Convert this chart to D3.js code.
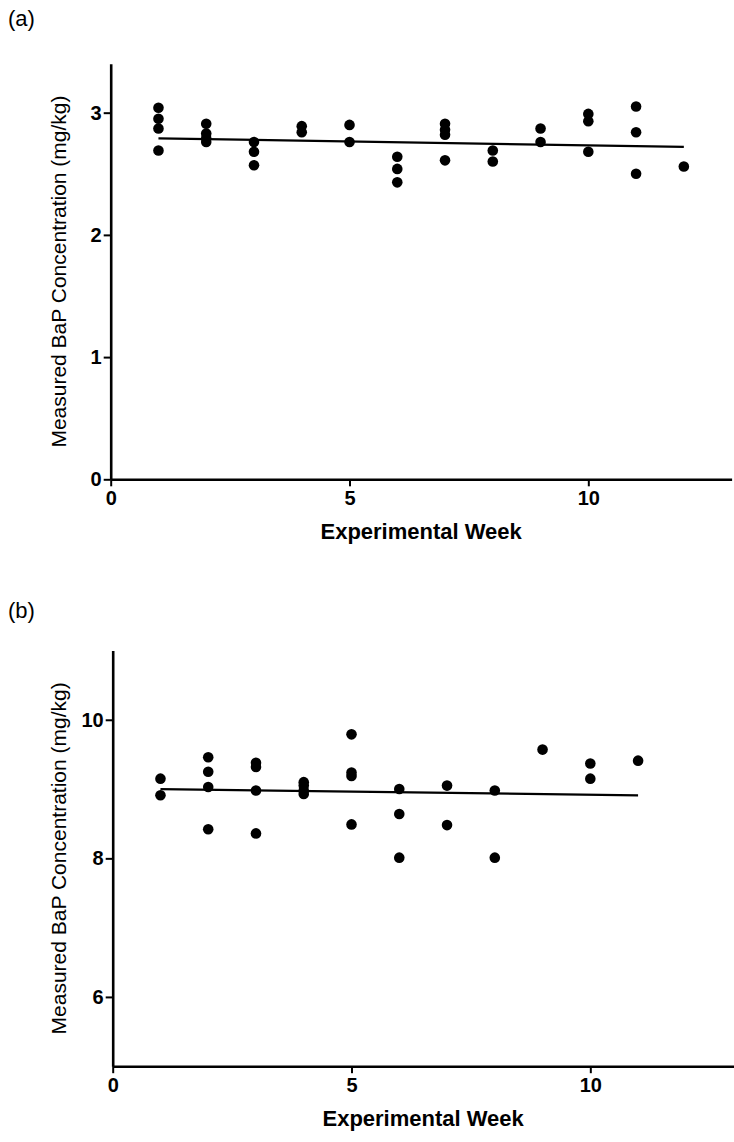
<!DOCTYPE html>
<html>
<head>
<meta charset="utf-8">
<script src="https://cdn.jsdelivr.net/npm/d3@7"></script>
<style>
  html, body { margin: 0; padding: 0; background: #fff; }
  svg { display: block; }
  text { font-family: "Liberation Sans", Arial, sans-serif; fill: #000; }
</style>
</head>
<body>
<svg id="fig" width="734" height="1142"></svg>
<script>
// Panel (a): measured BaP in feed, low dose
const weekA = [1, 1, 1, 1, 2, 2, 2, 2, 3, 3, 3, 4, 4, 5, 5, 6, 6, 6, 7, 7, 7, 7, 8, 8, 9, 9, 10, 10, 10, 11, 11, 11, 12];
const concA = [3.04, 2.95, 2.87, 2.69, 2.91, 2.83, 2.79, 2.76, 2.76, 2.68, 2.57, 2.89, 2.84, 2.90, 2.76, 2.64, 2.54, 2.43,
               2.91, 2.86, 2.82, 2.61, 2.69, 2.60, 2.87, 2.76, 2.99, 2.93, 2.68, 3.05, 2.84, 2.50, 2.56];
const fitWeekA = [1, 12];
const fitConcA = [2.79, 2.72];

// Panel (b): measured BaP in feed, high dose
const weekB = [1, 1, 2, 2, 2, 2, 3, 3, 3, 3, 4, 4, 4, 4, 5, 5, 5, 5, 6, 6, 6, 7, 7, 8, 8, 9, 10, 10, 11];
const concB = [9.15, 8.91, 9.46, 9.25, 9.03, 8.42, 9.38, 9.32, 8.98, 8.36, 9.10, 9.05, 8.98, 8.93,
               9.79, 9.24, 9.19, 8.49, 9.00, 8.64, 8.01, 9.05, 8.48, 8.98, 8.01, 9.57, 9.37, 9.15, 9.41];
const fitWeekB = [1, 11];
const fitConcB = [9.00, 8.91];

const xTicks = [0, 5, 10];
const yTicksA = [0, 1, 2, 3];
const yTicksB = [6, 8, 10];

const svg = d3.select("#fig");
const fmt = d3.format("d");

function panel(cfg) {
  const x = d3.scaleLinear().domain([0, 13]).range([cfg.left, cfg.right]);
  const y = d3.scaleLinear().domain(cfg.yDomain).range([cfg.bottom, cfg.top]);
  const g = svg.append("g");

  // panel letter
  g.append("text").attr("x", 8).attr("y", cfg.letterY)
    .style("font-size", "22px").text(cfg.letter);

  // axes
  const xAxis = d3.axisBottom(x).tickValues(xTicks).tickFormat(fmt)
    .tickSize(7).tickPadding(5).tickSizeOuter(0);
  const yAxis = d3.axisLeft(y).tickValues(cfg.yTicks).tickFormat(fmt)
    .tickSize(7).tickPadding(2).tickSizeOuter(0);

  const gx = g.append("g").attr("transform", `translate(0,${cfg.bottom})`).call(xAxis);
  const gy = g.append("g").attr("transform", `translate(${cfg.left},0)`).call(yAxis);
  [gx, gy].forEach(a => {
    a.select(".domain").attr("stroke", "#000").attr("stroke-width", 2.6);
    a.selectAll(".tick line").attr("stroke", "#000").attr("stroke-width", 2);
    a.selectAll(".tick text").style("font-size", "20px").style("font-weight", "bold")
      .style("font-family", "'Liberation Sans', Arial, sans-serif").attr("fill", "#000");
  });

  // axis titles
  g.append("text")
    .attr("x", (cfg.left + cfg.right) / 2).attr("y", cfg.bottom + 60)
    .attr("text-anchor", "middle")
    .style("font-size", "22px").style("font-weight", "bold")
    .text("Experimental Week");
  g.append("text")
    .attr("transform", `translate(${cfg.titleX},${(cfg.top + cfg.bottom) / 2}) rotate(-90)`)
    .attr("text-anchor", "middle")
    .style("font-size", "21px")
    .text("Measured BaP Concentration  (mg/kg)");

  // regression line
  const fit = cfg.fitWeek.map((w, i) => [w, cfg.fitConc[i]]);
  g.append("path")
    .datum(fit)
    .attr("fill", "none").attr("stroke", "#000").attr("stroke-width", 2.2)
    .attr("d", d3.line().x(d => x(d[0])).y(d => y(d[1])));

  // measurements
  const pts = cfg.week.map((w, i) => [w, cfg.conc[i]]);
  g.selectAll("circle.pt").data(pts).join("circle")
    .attr("class", "pt")
    .attr("cx", d => x(d[0])).attr("cy", d => y(d[1]))
    .attr("r", 5.3).attr("fill", "#000");
}

panel({
  letter: "(a)", letterY: 26, titleX: 66,
  left: 110.7, right: 731.6, top: 63.8, bottom: 479.3,
  yDomain: [0, 3.4], yTicks: yTicksA,
  week: weekA, conc: concA, fitWeek: fitWeekA, fitConc: fitConcA
});

panel({
  letter: "(b)", letterY: 618, titleX: 66,
  left: 112.7, right: 733.6, top: 650.5, bottom: 1066.2,
  yDomain: [5, 11], yTicks: yTicksB,
  week: weekB, conc: concB, fitWeek: fitWeekB, fitConc: fitConcB
});
</script>
</body>
</html>
